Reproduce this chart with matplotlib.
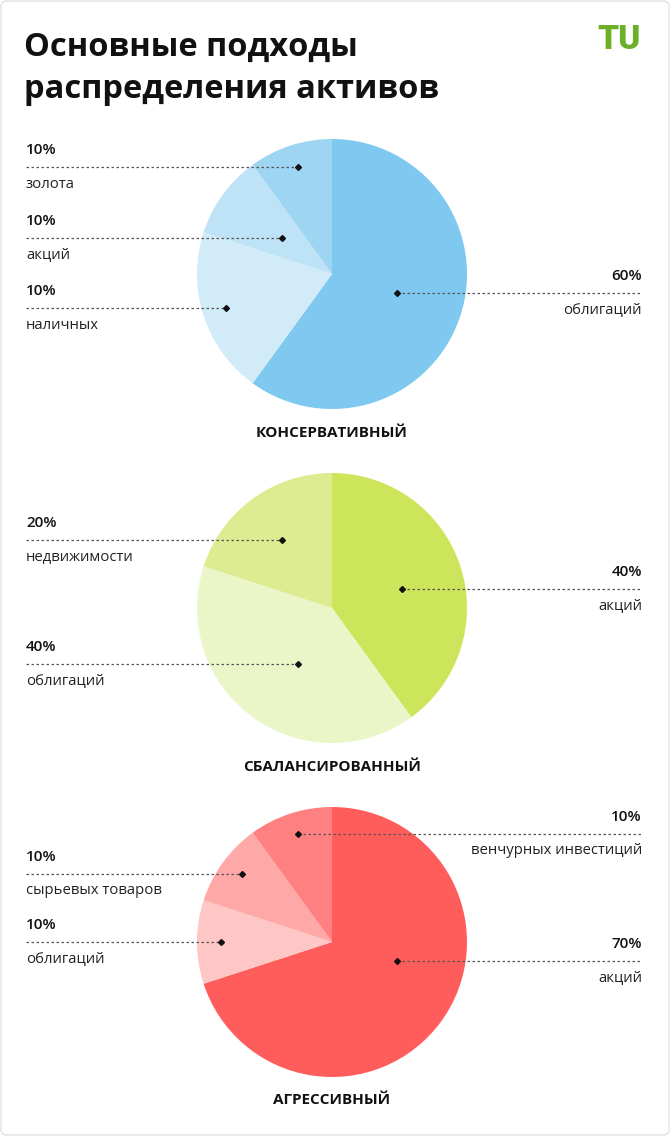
import matplotlib
matplotlib.use("Agg")
import matplotlib.pyplot as plt
from matplotlib.patches import FancyBboxPatch

W, H = 670, 1136
plt.rcParams["font.family"] = "Open Sans"

# shares (clockwise from top) as drawn in the picture
cons_values = [60, 20, 10, 10]
cons_labels = ["облигаций", "наличных", "акций", "золота"]
cons_pct = ["60%", "10%", "10%", "10%"]
cons_colors = ["#7FC8EF", "#D1EBF8", "#BEE3F6", "#9DD5F3"]

bal_values = [40, 40, 20]
bal_labels = ["акций", "облигаций", "недвижимости"]
bal_pct = ["40%", "40%", "20%"]
bal_colors = ["#CDE55A", "#EBF6C8", "#DDEC90"]

agr_values = [70, 10, 10, 10]
agr_labels = ["акций", "облигаций", "сырьевых товаров", "венчурных инвестиций"]
agr_pct = ["70%", "10%", "10%", "10%"]
agr_colors = ["#FF5C5C", "#FFC6C6", "#FFA8A8", "#FF8080"]

fig = plt.figure(figsize=(W / 100, H / 100), dpi=100)
ax = fig.add_axes([0, 0, 1, 1])

def Y(y):
    return H - y

# card border
ax.add_patch(FancyBboxPatch((1, 1), W - 2, H - 2, boxstyle="round,pad=0,rounding_size=6",
                            fc="white", ec="#E2E2E2", lw=1))

ax.text(24, Y(47), "Основные подходы", fontsize=23.5, fontweight="bold", va="center", color="#111111")
ax.text(24, Y(89), "распределения активов", fontsize=23.5, fontweight="bold", va="center", color="#111111")
ax.text(619, Y(40), "TU", fontsize=24, fontweight="heavy", color="#6CB02A", ha="center", va="center",
        family="Roboto")

def draw(values, colors, cy, title, title_y, labels, pcts, dots, sides):
    ax.pie(values, colors=colors, startangle=90, counterclock=False, radius=135,
           center=(332, Y(cy)), frame=True, wedgeprops=dict(linewidth=0))
    ax.text(332, Y(title_y), title, fontsize=11, fontweight="bold", ha="center", va="center", color="#111111")
    for lab, pct, (dx, dy), side in zip(labels, pcts, dots, sides):
        if side == "L":
            x0, x1, tx, ha = 26, dx, 26, "left"
        else:
            x0, x1, tx, ha = dx, 642, 642, "right"
        ax.plot([x0, x1], [Y(dy), Y(dy)], ls=(0, (2, 2)), color="#555555", lw=0.9)
        ax.plot(dx, Y(dy), marker="D", ms=3, color="#111111")
        ax.text(tx, Y(dy - 17), pct, fontsize=11, fontweight="semibold", ha=ha, va="center", color="#111111")
        ax.text(tx, Y(dy + 17), lab, fontsize=10.7, ha=ha, va="center", color="#222222")

draw(cons_values, cons_colors, 274, "КОНСЕРВАТИВНЫЙ", 433, cons_labels, cons_pct,
     [(397, 293), (226, 308), (282, 238), (298, 167)], ["R", "L", "L", "L"])
draw(bal_values, bal_colors, 608, "СБАЛАНСИРОВАННЫЙ", 767, bal_labels, bal_pct,
     [(402, 589), (298, 664), (282, 540)], ["R", "L", "L"])
draw(agr_values, agr_colors, 942, "АГРЕССИВНЫЙ", 1100, agr_labels, agr_pct,
     [(397, 961), (221, 942), (242, 874), (298, 834)], ["R", "L", "L", "R"])

ax.set_xlim(0, W)
ax.set_ylim(0, H)
ax.set_aspect("auto")
ax.axis("off")
fig.savefig("out.png", dpi=100)
